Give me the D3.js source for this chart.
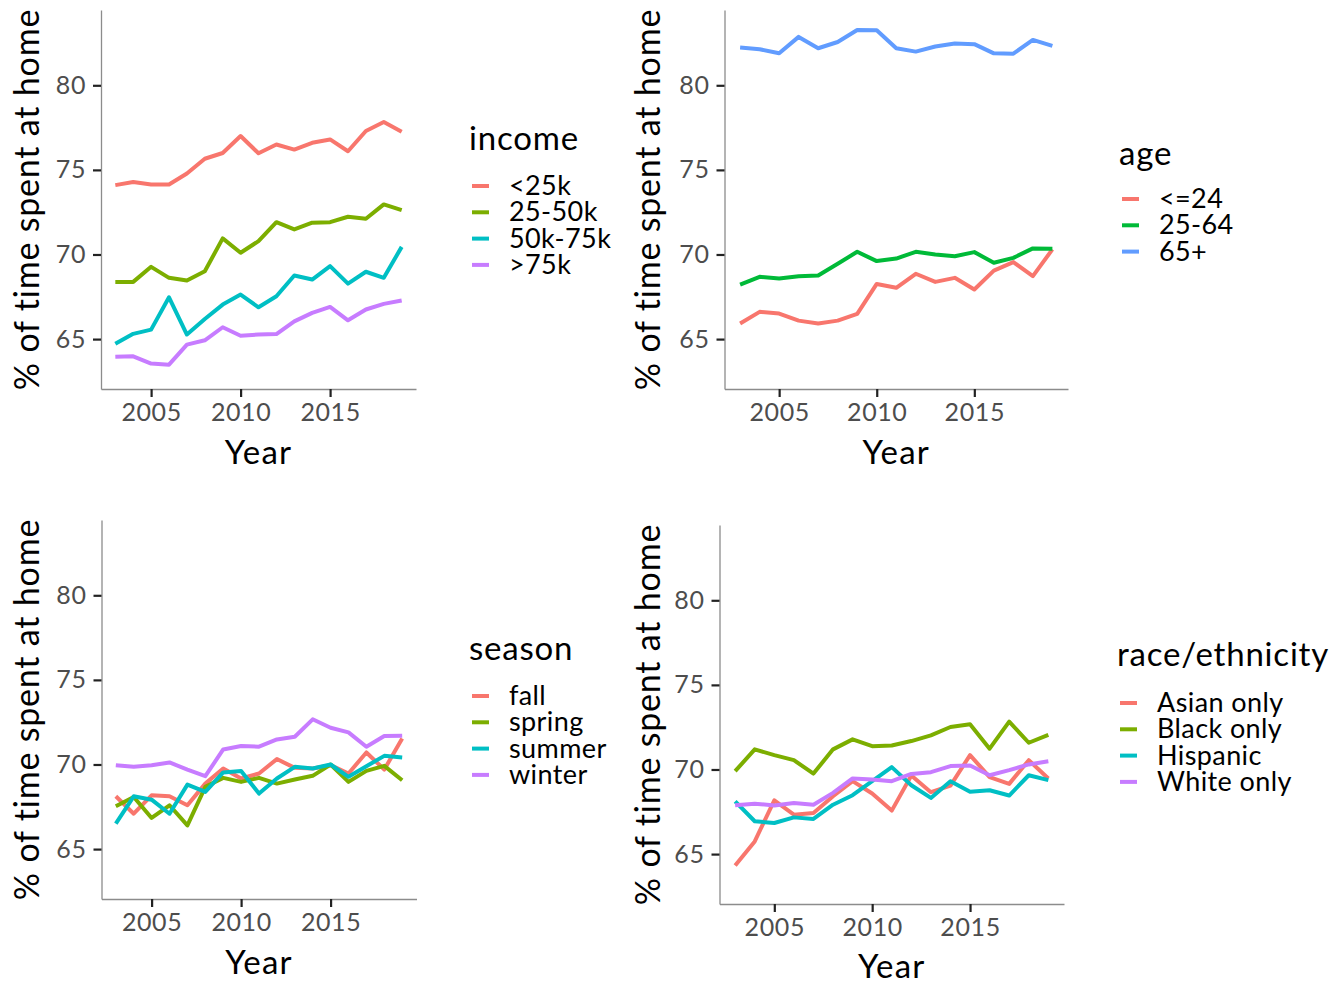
<!DOCTYPE html>
<html><head><meta charset="utf-8">
<script src="https://cdn.jsdelivr.net/npm/d3@7"></script>
<style>body{margin:0;background:#fff}svg{display:block}</style>
</head><body>
<svg id="chart" width="1343" height="984"></svg>
<script>
const years = d3.range(2003, 2020);
const yTicks = [65, 70, 75, 80];
const xTicks = [2005, 2010, 2015];

const incomeCats = ["<25k", "25-50k", "50k-75k", ">75k"];
const incomeLow = [74.1,74.28,74.14,74.14,74.79,75.66,76.0,77.0,75.98,76.5,76.2,76.6,76.8,76.1,77.3,77.83,77.26];
const income25 = [68.38,68.38,69.27,68.62,68.46,69.01,70.95,70.1,70.79,71.91,71.48,71.88,71.91,72.23,72.11,72.96,72.62];
const income50 = [64.72,65.31,65.56,67.47,65.27,66.19,67.04,67.63,66.88,67.53,68.76,68.52,69.31,68.28,68.98,68.62,70.45];
const income75 = [63.95,63.98,63.55,63.49,64.67,64.93,65.7,65.2,65.27,65.3,66.05,66.55,66.9,66.11,66.75,67.08,67.28];

const ageCats = ["<=24", "25-64", "65+"];
const ageYoung = [65.92,66.61,66.51,66.09,65.92,66.09,66.49,68.26,68.03,68.86,68.38,68.62,67.93,69.05,69.55,68.72,70.3];
const ageMid = [68.22,68.68,68.58,68.72,68.76,69.45,70.16,69.61,69.76,70.16,70.0,69.9,70.14,69.51,69.8,70.36,70.34];
const ageOld = [82.23,82.13,81.89,82.86,82.19,82.56,83.27,83.25,82.19,81.99,82.29,82.47,82.43,81.89,81.87,82.68,82.33];

const seasonCats = ["fall", "spring", "summer", "winter"];
const seasonFall = [68.12,67.09,68.18,68.12,67.59,68.87,69.76,69.17,69.47,70.32,69.8,69.76,69.96,69.47,70.71,69.7,71.54];
const seasonSpring = [67.53,68.08,66.84,67.59,66.4,68.68,69.21,68.97,69.21,68.87,69.11,69.33,70.0,68.97,69.62,69.92,69.07];
const seasonSummer = [66.5,68.12,67.92,67.09,68.81,68.38,69.53,69.62,68.28,69.17,69.86,69.76,70.0,69.27,69.9,70.51,70.42];
const seasonWinter = [69.96,69.86,69.96,70.12,69.7,69.31,70.89,71.09,71.05,71.48,71.64,72.67,72.17,71.9,71.05,71.68,71.7];

const raceCats = ["Asian only", "Black only", "Hispanic", "White only"];
const raceAsian = [64.33,65.75,68.18,67.33,67.43,68.42,69.31,68.58,67.57,69.64,68.66,69.05,70.85,69.55,69.15,70.55,69.47];
const raceBlack = [69.9,71.19,70.85,70.55,69.76,71.19,71.78,71.38,71.42,71.68,72.02,72.51,72.67,71.23,72.83,71.58,72.04];
const raceHispanic = [68.12,66.94,66.84,67.17,67.08,67.92,68.48,69.31,70.14,69.07,68.32,69.31,68.68,68.77,68.46,69.66,69.37];
const raceWhite = [67.89,67.98,67.87,68.02,67.92,68.62,69.47,69.41,69.31,69.74,69.84,70.2,70.24,69.66,69.96,70.3,70.49];

const pal4 = ["#F8766D", "#7CAE00", "#00BFC4", "#C77CFF"];
const pal3 = ["#F8766D", "#00BA38", "#619CFF"];

const panels = [
  {title:"income", cats:incomeCats, series:[incomeLow,income25,income50,income75], colors:pal4,
   box:{l:101,r:416,t:10,b:389}, ytx:27, leg:{x:469,ty:150,y0:186}},
  {title:"age", cats:ageCats, series:[ageYoung,ageMid,ageOld], colors:pal3,
   box:{l:724.5,r:1068,t:10,b:389}, ytx:648, leg:{x:1119,ty:165,y0:199}},
  {title:"season", cats:seasonCats, series:[seasonFall,seasonSpring,seasonSummer,seasonWinter], colors:pal4,
   box:{l:101.5,r:416.5,t:520,b:899}, ytx:27, leg:{x:469,ty:660,y0:696}},
  {title:"race/ethnicity", cats:raceCats, series:[raceAsian,raceBlack,raceHispanic,raceWhite], colors:pal4,
   box:{l:719.5,r:1064,t:525,b:904}, ytx:648, leg:{x:1117,ty:666,y0:703}}
];

const svg = d3.select("#chart");
const font = "Lato, 'Noto Sans', sans-serif";

panels.forEach((p, pi) => {
  const b = p.box;
  const x = d3.scaleLinear().domain([2003 - 0.8, 2019 + 0.8]).range([b.l, b.r]);
  const y = d3.scaleLinear().domain([62.05, 84.45]).range([b.b, b.t]);
  const g = svg.append("g");

  const xa = g.append("g").attr("transform", `translate(0,${b.b})`)
    .call(d3.axisBottom(x).tickValues(xTicks).tickFormat(d3.format("d")).tickSizeInner(8).tickSizeOuter(0).tickPadding(6));
  const ya = g.append("g").attr("transform", `translate(${b.l},0)`)
    .call(d3.axisLeft(y).tickValues(yTicks).tickSizeInner(8).tickSizeOuter(0).tickPadding(7));
  [xa, ya].forEach(a => {
    a.select(".domain").attr("stroke", "#8c8c8c").attr("stroke-width", 1.3);
    a.selectAll(".tick line").attr("stroke", "#222").attr("stroke-width", 2.2);
    a.selectAll(".tick text").attr("fill", "#4d4d4d").style("font-family", font)
      .style("font-size", "25px").style("letter-spacing", "0.6px");
  });

  g.append("text").attr("x", (b.l + b.r) / 2).attr("y", b.b + (pi === 3 ? 74 : 75))
    .attr("text-anchor", "middle").style("font-family", font).style("font-size", "33px")
    .style("letter-spacing", "1.2px").attr("fill", "#000")
    .text("Year");
  g.append("text").attr("transform", `translate(${p.ytx + 12},${(b.t + b.b) / 2}) rotate(-90)`)
    .attr("text-anchor", "middle").style("font-family", font).style("font-size", "34px")
    .style("letter-spacing", "0.8px").attr("fill", "#000")
    .text("% of time spent at home");

  const line = d3.line().x((d, i) => x(years[i])).y(d => y(d));
  p.series.forEach((s, i) => {
    g.append("path").datum(s).attr("d", line).attr("fill", "none")
      .attr("stroke", p.colors[i]).attr("stroke-width", 4).attr("stroke-linejoin", "round");
  });

  const L = p.leg;
  g.append("text").attr("x", L.x).attr("y", L.ty).style("font-family", font).style("font-size", "33px")
    .style("letter-spacing", "0.8px").attr("fill", "#000").text(p.title);
  p.cats.forEach((c, i) => {
    const yy = L.y0 + i * 26.3;
    g.append("line").attr("x1", L.x + 3).attr("x2", L.x + 20).attr("y1", yy).attr("y2", yy)
      .attr("stroke", p.colors[i]).attr("stroke-width", 4);
    g.append("text").attr("x", L.x + 40).attr("y", yy + 9).style("font-family", font).style("font-size", "27px")
      .style("letter-spacing", "0.4px").attr("fill", "#000").text(c);
  });
});
</script>
</body></html>
